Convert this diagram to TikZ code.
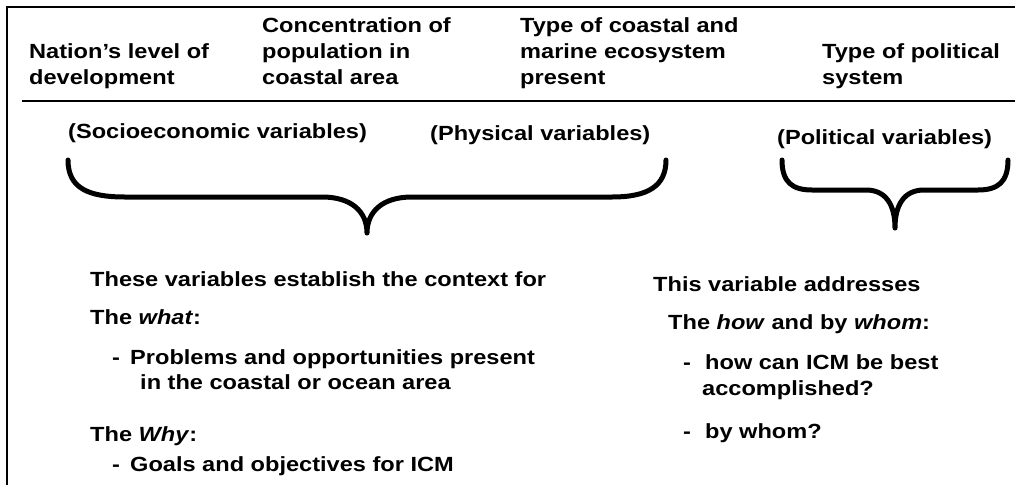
\documentclass[tikz,border=0pt]{standalone}
\usepackage{fontspec}
\setmainfont{Liberation Sans}[FakeStretch=1.15]
\begin{document}
\begin{tikzpicture}[x=1pt,y=-1pt,
  txt/.style={anchor=base west,inner sep=0pt,font=\fontsize{20.5}{26}\selectfont\bfseries},
  rule/.style={line width=2pt},
  brace/.style={line width=5pt,line cap=round,line join=round}]
\useasboundingbox (0,0) rectangle (1015,485);

% frame lines
\coordinate (tl) at (6.5,7);
\coordinate (tr) at (1015,7);
\coordinate (bl) at (6.5,485);
\coordinate (hl) at (22,101);
\coordinate (hr) at (1015,101);
\draw[rule] (bl) -- (tl) -- (tr);
\draw[rule] (hl) -- (hr);

% column headings
\node[txt] (h1a) at (29,58.5) {Nation’s level of};
\node[txt] (h1b) at (29,84.5) {development};
\node[txt] (h2a) at (262,32.5) {Concentration of};
\node[txt] (h2b) at (262,58.5) {population in};
\node[txt] (h2c) at (262,84.5) {coastal area};
\node[txt] (h3a) at (520,32.5) {Type of coastal and};
\node[txt] (h3b) at (520,58.5) {marine ecosystem};
\node[txt] (h3c) at (520,84.5) {present};
\node[txt] (h4a) at (822,58.5) {Type of political};
\node[txt] (h4b) at (822,84.5) {system};

% variable groups
\node[txt] (soc) at (68,138) {(Socioeconomic variables)};
\node[txt] (phy) at (430,140) {(Physical variables)};
\node[txt] (pol) at (777,144) {(Political variables)};

% braces
\coordinate (b1l) at (68,160);
\coordinate (b1t) at (367,233);
\coordinate (b1r) at (666,160);
\draw[brace] (b1l) .. controls (68,188) and (88,197) .. (125,197) -- (322,197)
  .. controls (352,197) and (367,212) .. (b1t)
  .. controls (367,212) and (382,197) .. (412,197) -- (612,197)
  .. controls (648,197) and (666,186) .. (b1r);
\coordinate (b2l) at (782,160);
\coordinate (b2t) at (895,228);
\coordinate (b2r) at (1008,160);
\draw[brace] (b2l) .. controls (782,182) and (792,190) .. (812,190) -- (866,190)
  .. controls (886,190) and (895,205) .. (b2t)
  .. controls (895,205) and (904,190) .. (924,190) -- (978,190)
  .. controls (998,190) and (1008,182) .. (b2r);

% context column
\node[txt] (c1) at (90,286) {These variables establish the context for};
\node[txt] (c2) at (90,324) {The \textit{what}:};
\node[txt] (c3d) at (112,364) {-};
\node[txt] (c3) at (130,364) {Problems and opportunities present};
\node[txt] (c4) at (140,389) {in the coastal or ocean area};
\node[txt] (c5) at (90,441) {The \textit{Why}:};
\node[txt] (c6d) at (112,471) {-};
\node[txt] (c6) at (130,471) {Goals and objectives for ICM};

% political column
\node[txt] (p1) at (653,291) {This variable addresses};
\node[txt] (p2) at (668,329) {The \textit{how} and by \textit{whom}:};
\node[txt] (p3d) at (683,369) {-};
\node[txt] (p3) at (705,369) {how can ICM be best};
\node[txt] (p4) at (702,395) {accomplished?};
\node[txt] (p5d) at (683,438) {-};
\node[txt] (p5) at (705,438) {by whom?};
\end{tikzpicture}
\end{document}
